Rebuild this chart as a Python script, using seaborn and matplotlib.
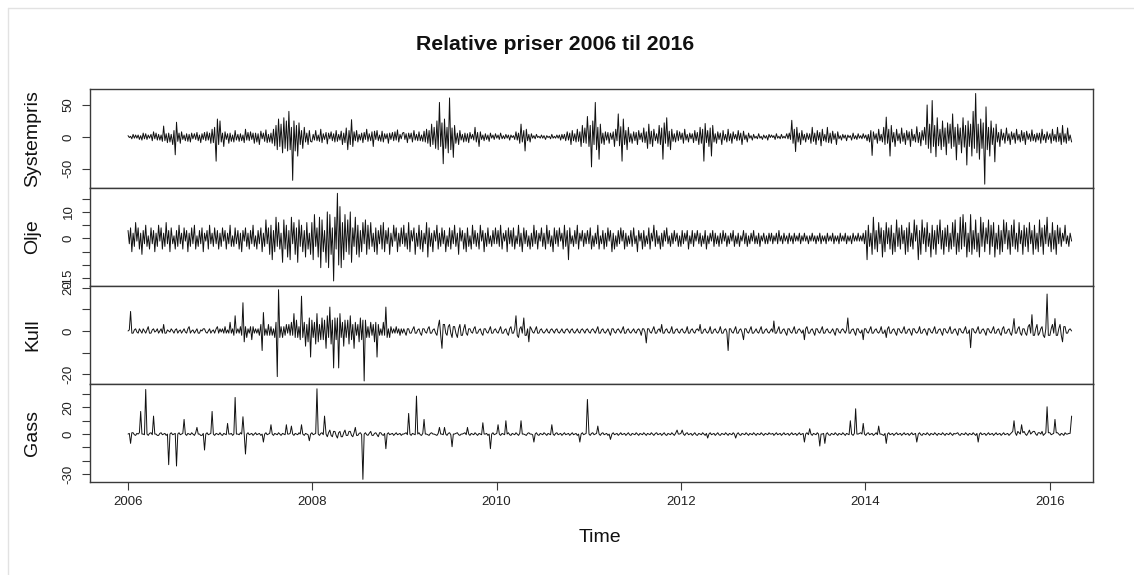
import numpy as np
import pandas as pd
import matplotlib
matplotlib.use("Agg")
import matplotlib.pyplot as plt
from matplotlib.lines import Line2D
import seaborn as sns

# Relative price changes, about 72 observations per year (2006 - Mar 2016)
systempris = [
    # 2006
    2, -1, 1, -3, 4, -2, 3, -2, 3, -4, 2, -5, 6, -3, 5, -4, 3, -2, 4, -6, 8, -3, 6, -5, 4, -5, 3, -7, 17, -6, 5, -9, 6, -8, 4, -12,
    10, -28, 23, -7, 6, -10, 8, -4, 3, -6, 5, -7, 4, -8, 6, -3, 5, -4, 7, -6, 3, -9, 5, -4, 7, -6, 8, -5, 6, -10, 12, -9, 15, -38, 28, -12,
    # 2007
    25, -8, 6, -15, 8, -4, 5, -10, 6, -7, 3, -8, 10, -5, 4, -7, 5, -6, 3, -9, 12, -5, 7, -6, 8, -4, 6, -10, 6, -8, 5, -12, 9, -3, 6, -7,
    11, -9, 4, -8, 6, -10, 12, -14, 18, -20, 28, -15, 20, -25, 30, -18, 25, -22, 40, -20, 15, -68, 25, -22, 18, -30, 22, -12, 10, -18, 15, -8, 6, -12, 10, -7,
    # 2008
    -8, 4, -5, 10, -6, 3, -7, 12, -9, 5, -4, 7, -11, 6, -3, 8, -6, 5, -8, 10, -7, 4, -5, 9, -12, 6, -9, 14, -20, 10, -12, 27, -15, 8, -6, 10,
    -8, 4, -5, 6, -9, 7, -4, 12, -7, 5, -6, 8, -15, 9, -4, 10, -6, 3, -7, 9, -8, 5, -3, 5, -10, 6, -4, 7, -6, 8, -5, 11, -8, 4, -3, 6,
    # 2009
    7, -4, 5, -9, 6, -3, 6, -8, 10, -5, 4, -6, 8, -6, 3, -7, 9, -8, 12, -10, 10, -15, 20, -12, 15, -18, 25, -20, 54, -15, 22, -42, 28, -18, 15, -25,
    61, -20, 14, -32, 18, -10, 6, -12, 10, -5, 4, -8, 6, -7, 5, -9, 7, -3, 4, -5, 15, -8, 7, -15, 8, -4, 3, -6, 5, -4, 3, -7, 6, -2, 3, -4,
    # 2010
    5, -2, 3, -4, 6, -3, 2, -3, 4, -2, 3, -5, 3, -1, 2, -4, 8, -5, 6, -10, 20, -8, 10, -22, 12, -6, 4, -8, 5, -2, 2, -3, 4, -1, 1, -2,
    3, -2, 2, -4, 2, -1, 1, -3, 4, -2, 1, -2, 3, -2, 3, -5, 4, -3, 4, -6, 8, -5, 6, -12, 10, -6, 5, -8, 12, -7, 8, -15, 18, -9, 14, -10,
    # 2011
    32, -15, 18, -47, 25, -12, 54, -20, 15, -35, 20, -10, 6, -12, 8, -5, 7, -10, 6, -4, 8, -15, 12, -6, 36, -14, 16, -38, 28, -12, 10, -20, 15, -8, 5, -10,
    8, -6, 7, -12, 10, -4, 6, -8, 14, -9, 8, -18, 20, -11, 9, -15, 12, -6, 5, -10, 18, -12, 14, -35, 22, -10, 30, -15, 9, -20, 12, -7, 5, -8, 10, -6,
    # 2012
    8, -4, 6, -10, 12, -5, 4, -8, 6, -3, 5, -9, 10, -6, 7, -12, 15, -10, 12, -38, 21, -9, 10, -15, 14, -30, 18, -8, 5, -10, 8, -4, 6, -12, 10, -5,
    4, -8, 12, -6, 5, -10, 8, -3, 4, -6, 10, -5, 6, -12, 9, -4, 3, -8, 6, -2, 2, -5, 4, -2, 1, -3, 5, -2, 1, -4, 3, -2, 2, -5, 4, -1,
    # 2013
    3, -1, 2, -4, 5, -2, 1, -3, 4, -2, 1, -2, 5, -3, 6, -4, 26, -10, 12, -23, 15, -8, 6, -12, 10, -5, 4, -8, 6, -4, 5, -10, 15, -7, 6, -12,
    10, -5, 7, -14, 12, -6, 4, -8, 15, -9, 6, -10, 9, -4, 5, -12, 8, -3, 2, -5, 4, -2, 3, -6, 3, -1, 2, -5, 6, -3, 2, -4, 5, -2, 2, -3,
    # 2014
    5, -2, 3, -6, 4, -8, 10, -29, 8, -4, 5, -10, 12, -6, 4, -8, 15, -12, 31, -10, 12, -30, 18, -8, 7, -15, 12, -6, 5, -10, 14, -7, 6, -12, 10, -5,
    8, -15, 12, -6, 4, -8, 16, -9, 7, -14, 10, -5, 15, -12, 50, -18, 20, -25, 57, -15, 18, -31, 30, -14, 12, -20, 25, -15, 14, -28, 22, -10, 20, -18, 36, -15,
    # 2015
    15, -36, 20, -12, 14, -25, 30, -16, 18, -44, 25, -15, 20, -30, 40, -18, 68, -25, 20, -35, 28, -18, 22, -74, 47, -20, 15, -30, 25, -12, 14, -39, 20, -8, 7, -15,
    12, -5, 6, -10, 14, -6, 5, -12, 8, -4, 6, -10, 12, -5, 4, -8, 10, -6, 7, -12, 9, -4, 5, -7, 11, -6, 4, -8, 6, -5, 6, -10, 12, -5, 4, -9,
    # 2016
    8, -4, 5, -10, 12, -6, 4, -8, 15, -7, 6, -12, 18, -8, 5, -10, 14, -6, 3, -8,
]

olje = [
    # 2006
    3, -2, 4, -5, 2, -3, 6, -1, 4, -4, 2, -6, 3, -2, 5, -3, 1, -4, 4, -2, 3, -5, 2, -3, 5, -1, 4, -4, 2, -3, 6, -2, 3, -5, 4, -2,
    1, -4, 3, -3, 5, -2, 2, -4, 4, -1, 3, -5, 2, -3, 4, -2, 5, -4, 1, -3, 3, -2, 4, -5, 2, -1, 3, -4, 5, -2, 2, -3, 4, -2, 3, -4,
    # 2007
    2, -3, 4, -1, 3, -4, 2, -2, 5, -3, 1, -3, 4, -2, 3, -4, 2, -5, 3, -1, 4, -3, 2, -4, 3, -2, 5, -3, 1, -4, 3, -2, 4, -5, 2, -3,
    7, -2, 4, -6, 5, -8, 3, -5, 8, -3, 6, -4, 2, -9, 7, -4, 5, -7, 3, -8, 8, -2, 6, -6, 4, -9, 7, -3, 5, -5, 3, -7, 6, -4, 2, -6,
    # 2008
    6, -8, 9, -3, 4, -7, 8, -11, 7, -5, 3, -9, 10, -11, 9, -6, 4, -16, 8, -4, 17, -10, 12, -11, 6, -8, 9, -5, 7, -6, 10, -9, 4, -3, 8, -6,
    5, -7, 3, -5, 6, -2, 7, -6, 5, -4, 6, -3, 2, -5, 4, -6, 3, -2, 5, -4, 6, -5, 3, -2, 4, -6, 2, -3, 5, -1, 4, -5, 2, -3, 4, -2,
    # 2009
    5, -3, 2, -4, 6, -5, 3, -1, 4, -6, 2, -3, 5, -4, 3, -5, 2, -2, 6, -7, 4, -3, 2, -5, 3, -1, 5, -4, 2, -3, 4, -2, 3, -5, 1, -3,
    4, -4, 3, -2, 5, -3, 2, -6, 4, -1, 3, -4, 2, -5, 4, -3, 1, -4, 5, -2, 3, -3, 2, -4, 5, -1, 3, -5, 2, -3, 4, -2, 1, -3, 3, -2,
    # 2010
    4, -2, 3, -3, 5, -4, 2, -1, 3, -5, 4, -2, 3, -3, 4, -4, 1, -2, 5, -3, 2, -5, 4, -2, 3, -3, 1, -4, 2, -3, 5, -2, 3, -4, 2, -1,
    4, -3, 2, -4, 5, -2, 3, -3, 1, -5, 4, -2, 3, -3, 4, -1, 2, -4, 5, -3, 3, -8, 4, -2, 1, -3, 3, -2, 5, -4, 2, -1, 3, -3, 2, -2,
    # 2011
    3, -2, 4, -4, 1, -3, 2, -2, 5, -4, 1, -2, 3, -4, 2, -3, 4, -1, 3, -5, 2, -4, 1, -3, 3, -2, 4, -1, 3, -4, 2, -3, 1, -2, 3, -3,
    4, -2, 1, -5, 3, -1, 2, -4, 3, -3, 1, -2, 4, -4, 2, -1, 5, -3, 3, -2, 1, -4, 2, -3, 3, -1, 4, -2, 1, -3, 2, -2, 3, -1, 2, -3,
    # 2012
    1, -3, 3, -2, 2, -1, 3, -4, 1, -2, 3, -3, 2, -1, 3, -2, 2, -3, 1, -2, 3, -4, 1, -2, 2, -1, 3, -3, 2, -2, 1, -3, 2, -2, 3, -1,
    2, -3, 1, -2, 2, -1, 3, -3, 1, -2, 2, -3, 1, -1, 3, -2, 2, -3, 1, -2, 2, -1, 3, -2, 1, -2, 2, -3, 1, -1, 2, -2, 1, -2, 2, -1,
    # 2013
    2, -2, 1, -1, 2, -2, 3, -1, 1, -2, 2, -1, 1, -2, 2, -1, 1, -2, 2, -1, 1, -1, 2, -2, 1, -1, 2, -1, 1, -2, 1, -1, 2, -1, 1, -2,
    1, -1, 2, -2, 1, -1, 1, -2, 2, -1, 1, -1, 2, -2, 1, -1, 1, -2, 2, -1, 1, -1, 2, -2, 1, -1, 1, -2, 2, -1, 1, -1, 2, -1, 1, -1,
    # 2014
    2, -2, 3, -8, 5, -3, 2, -6, 8, -4, 3, -5, 6, -2, 4, -7, 3, -5, 6, -2, 4, -4, 5, -6, 2, -5, 7, -3, 4, -4, 5, -2, 3, -6, 4, -5,
    6, -3, 2, -4, 7, -1, 5, -8, 3, -6, 7, -2, 4, -5, 6, -3, 2, -7, 5, -4, 3, -6, 5, -2, 7, -4, 3, -6, 4, -3, 5, -5, 2, -4, 6, -3,
    # 2015
    7, -6, 2, -5, 8, -4, 9, -3, 6, -7, 2, -5, 9, -6, 3, -4, 7, -5, 2, -7, 8, -3, 6, -5, 4, -2, 7, -6, 5, -3, 6, -7, 2, -4, 5, -6,
    3, -5, 7, -2, 6, -4, 3, -6, 5, -3, 7, -4, 2, -5, 6, -2, 3, -6, 5, -3, 4, -5, 6, -2, 3, -6, 5, -4, 2, -5, 7, -3, 4, -6, 5, -2,
    # 2016
    8, -3, 2, -5, 6, -4, 3, -6, 5, -2, 4, -3, 2, -1, 5, -2, 1, -3, 2, -1,
]

kull = [
    # 2006
    0, 0.5, 9, -1, -1, 0.5, 1, -0.5, -1, 1, 0, -1, 1, 0, -1, 0.5, 2, -1, -1, 0.5, 1, -0.5, 0, 1, -1, 0, 1, -1, 3, -1, -1, 0.5, 0, -0.5, 1, 0,
    -1, 0.5, 1, -1, 0, 0.5, -1, 0, 1, -0.5, -1, 1, 2, -1, 0, 0.5, -1, 0, 1, -1, -1, 0.5, 0, 1, 1, -0.5, -1, 0, 1, -1, 0, 0.5, -1, 1, 2, -1,
    # 2007
    1, -0.5, 1, -1, 2, -1, 0.5, -1, 4, -1, 1, -2, 7, -1, 1, -1, 2, -2, 13, -5, 2, -3, 1, -1, 2, -4, 2, -1, 1, -1, 1, -2, 3, -9, 8.5, -2,
    1, -2, 3, -2, 2, -2, 1, -3, 4, -21, 19, -3, 2, -3, 2, -2, 3, -1, 3, -2, 4, -2, 8, -3, 5, -3, 2, -4, 16, -3, 4, -7, 3, -5, 6, -12,
    # 2008
    5, -3, 4, -6, 8, -5, 3, -4, 6, -4, 5, -8, 7, -3, 11, -6, 5, -17, 6, -4, 6, -17, 8, -3, 4, -7, 5, -3, 5, -6, 7, -4, 3, -8, 4, -2,
    3, -5, 6, -4, 5, -23, 5, -3, 2, -3, 4, -2, 3, -5, 4, -12, 3, -2, 1, -2, 4, -2, 11, -3, 1, -3, 2, -1, 1, -1, 2, -1, 1, -2, 1, -1,
    # 2009
    1, -0.5, -2, 1, 1, -1, -1, 0.5, 2, -1, -1, 0.5, 1, -1, -2, 1, 1, -0.5, -1, 1, 2, -1, -1, 0.5, 1, -1, -2, 2, 5, -2, -8, 3, 3, -1, -2, 2,
    3, -1, -3, 2, 2, -1, -3, 1, 3, -2, -2, 1, 3, -1, -2, 1, 1, -0.5, -1, 1, 2, -1, -1, 0.5, 1, -1, -2, 1, 1, -0.5, -1, 0.5, 2, -1, -1, 0.5,
    # 2010
    1, -0.5, -1, 0.5, 2, -1, -1, 0.5, 1, -1, -2, 1, 2, -1, -1, 1, 7, -2, -3, 1, 2, -1, 6, -2, -2, 1, -5, 2, 1, -0.5, -1, 0.5, 2, -1, -1, 0.5,
    1, -0.5, -1, 0, 1, -0.5, -1, 0.5, 1, 0, -1, 0.5, 1, -0.5, -1, 0, 1, -0.5, -1, 0.5, 1, 0, -1, 0.5, 1, -0.5, -1, 0, 1, -0.5, -1, 0.5, 1, 0, -1, 0.5,
    # 2011
    1, -0.5, -1, 0.5, 1, 0, -1, 0.5, 2, -1, -1, 0.5, 1, -0.5, -1, 0, 1, -0.5, -2, 1, 1, -0.5, -1, 0.5, 1, 0, -1, 0.5, 2, -1, -1, 0.5, 1, -0.5, -1, 0,
    1, -0.5, -1, 0.5, 1, 0, -2, 1, 1, -0.5, -5.5, 1, 1, -0.5, -1, 0.5, 2, -1, -1, 0.5, 1, -0.5, 3, -1, -1, 0.5, 1, -0.5, -1, 0, 2, -1, -1, 0.5, 1, -0.5,
    # 2012
    -1, 0.5, 1, -0.5, -1, 0, 2, -1, -1, 0.5, 1, -0.5, -1, 0.5, 1, 0, 3, -1, -1, 0.5, 1, -0.5, -1, 0, 2, -1, -1, 0.5, 1, -0.5, -1, 0, 2, -1, -1, 0.5,
    1, -0.5, -9, 1, 1, -0.5, -1, 0.5, 2, -1, -1, 0.5, 1, -0.5, -4, 1, 1, -0.5, -1, 0.5, 2, -1, -1, 0, 1, -0.5, -1, 0.5, 2, -1, -1, 0.5, 1, -0.5, -1, 0,
    # 2013
    1, -0.5, 4.6, -1, -1, 0.5, 2, -1, -1, 0.5, 1, -0.5, -2, 1, 1, -0.5, -1, 0.5, 2, -1, -1, 0.5, 1, 0, -1, 0.5, -4, 1, 2, -1, -1, 0.5, 1, -0.5, -2, 1,
    1, -0.5, -1, 0.5, 2, -1, -1, 0.5, 1, -0.5, -1, 0, 1, -0.5, -2, 1, 1, -0.5, -1, 0.5, 1, 0, -1, 0.5, 6, -1, -1, 0.5, 1, -0.5, -2, 1, 1, -0.5, -1, 0.5,
    # 2014
    -4, 1, 1, -0.5, -1, 0.5, 2, -1, -1, 0.5, 1, -0.5, -1, 0, 2, -1, -1, 0.5, -3, 1, 2, -1, -1, 0.5, 1, -0.5, -2, 1, 1, -0.5, -1, 0.5, 2, -1, -1, 0.5,
    1, -0.5, -2, 1, 1, -0.5, -1, 0, 2, -1, -1, 0.5, 1, -0.5, -2, 1, 1, -0.5, -1, 0.5, 2, -1, -1, 0.5, 1, -0.5, -2, 1, 1, -0.5, -1, 0.5, 2, -1, -1, 0.5,
    # 2015
    1, -0.5, -2, 1, 1, -0.5, -1, 0.5, 2, -1, -1, 0.5, -7.7, 1, 1, -0.5, -1, 0.5, 2, -1, -1, 0.5, 1, -0.5, -2, 1, 1, -0.5, -1, 0.5, 2, -1, -1, 0.5, 1, -1,
    -2, 1, 2, -1, -1, 0.5, 1, -1, -2, 1, 5.7, -1, -1, 1, 2, -1, -2, 1, 1, -1, -2, 2, 3, -1, 7.5, -2, -2, 1, 3, -2, -1, 1, 2, -2, -3, 1,
    # 2016
    17, -2, -2, 1, 3, -1, 5.7, -2, -2, 1, 3, -2, -5, 2, 2, -1, -1, 0.5, 1, 0,
]

gass = [
    # 2006
    0, 0.5, -7, 1, 1, -0.5, -1, 0.5, 0, 1, 17, 0, 0, -0.5, 33.5, 0, -1, 0.5, 1, -0.5, 13.5, 0, 0, -1, -1, 0.5, 1, -0.5, 0, 0.5, -1, 0, -23, 0, 1, -0.5,
    0, 0.5, -24, 0, 1, -0.5, 0, 0.5, 11, 0, -1, 0.5, 0, -0.5, 1, 0, -1, 1, 5, 0, 0, -1, -1, 0.5, -12, 0, 1, -0.5, 0, 0.5, 17, 0, -1, 0.5, 0, -0.5,
    # 2007
    1, -0.5, -1, 0.5, 0, -0.5, 8, 0, 0, 0.5, -1, 0, 27.5, 0, 0, -0.5, 1, 0, 13, 0, -15, 0, 1, -0.5, 0, 0.5, -1, 0, 1, -0.5, 0, 0.5, -1, 0, -6, 0,
    1, -0.5, 0, 0.5, 7, 0, -1, 0.5, 0, -0.5, 1, 0, -1, 0.5, 0, -0.5, 7, 0, 0, 0.5, 6, 0, -1, 0.5, 0, -0.5, 1, 0, 7, 0, -1, 0.5, 0, -0.5, -5, 0,
    # 2008
    1, -0.5, 0, 0.5, 34, 0, -1, 0.5, 1, -0.5, 13.5, 0, -2, 1, 3, -1, -2, 2, 2, -1, -3, 1, 2, -2, -2, 1, 3, -1, -1, 2, 2, -1, -2, 1, 5, -1,
    -1, 0.5, 1, -0.5, -34, 0, 1, -0.5, -1, 0.5, 2, -1, -1, 0.5, 1, -0.5, -2, 1, 1, -0.5, -1, 0.5, -11, 0, 1, -0.5, 0, 0.5, -1, 0, 1, -0.5, 0, 0.5, -1, 0,
    # 2009
    0, 0.5, 1, -0.5, 15.5, 0, -1, 0.5, 0, -0.5, 28.5, 0, 1, -0.5, -1, 0.5, 11, 0, 0, -0.5, -1, 0.5, 1, 0, 0, -0.5, -1, 0.5, 5, 0, 0, -0.5, 5, 0, -1, 0.5,
    1, -0.5, -9.5, 0, 0, 0.5, 1, -0.5, -1, 0, 0, 0.5, 1, -0.5, 5, 0, -1, 0.5, 0, -0.5, 1, 0, -1, 0.5, 0, -0.5, 8.5, 0, 0, 0.5, -1, 0, -11, 0, 1, -0.5,
    # 2010
    0, 0.5, 7, 0, -1, 0.5, 0, -0.5, 10, 0, 1, -0.5, -1, 0.5, 0, -0.5, 1, 0, -1, 0.5, 10, 0, 0, -0.5, -1, 0.5, 1, 0, 0, -0.5, -6, 0, 1, -0.5, -1, 0.5,
    0, -0.5, 1, 0, -1, 0.5, 0, -0.5, 7, 0, -1, 0.5, 1, -0.5, 0, 0.5, -1, 0, 1, -0.5, 0, 0.5, -1, 0, 1, -0.5, 0, 0.5, -1, 0, -6, 0, 1, -0.5, 0, 0.5,
    # 2011
    26, 0, -1, 0.5, 1, -0.5, 0, 0.5, 6, 0, -1, 0.5, 1, -0.5, 0, 0.5, -1, 0, -4, 0, 1, -0.5, 0, 0.5, -1, 0, 1, -0.5, 0, 0.5, -1, 0, 1, -0.5, -1, 0.5,
    0, -0.5, 1, 0, -1, 0.5, 0, -0.5, 1, 0, -1, 0.5, 0, -0.5, 1, 0, -1, 0.5, 1, -0.5, 0, 0.5, -1, 0, 1, -0.5, -1, 0.5, 0, -0.5, 1, 0, -1, 0.5, 3, 0,
    # 2012
    0, 0.5, 3, 0, -1, 0.5, 1, -0.5, 0, 0.5, -1, 0, 1, -0.5, -1, 0.5, 0, -0.5, 1, 0, -1, 0.5, -3, 0, 1, -0.5, 0, 0.5, -1, 0, 1, -0.5, -1, 0.5, 0, -0.5,
    1, 0, -1, 0.5, 0, -0.5, 1, 0, -3, 0, 1, -0.5, -1, 0.5, 0, -0.5, 1, 0, -1, 0.5, 0, -0.5, 1, 0, -1, 0.5, 0, -0.5, 1, 0, -1, 0.5, 0, -0.5, 1, 0,
    # 2013
    0, 0.5, -1, 0, 1, -0.5, 0, 0.5, -1, 0, 1, -0.5, 0, 0.5, -1, 0, 1, -0.5, 0, 0.5, -1, 0, 1, -0.5, 0, 0.5, -6, 0, 1, -0.5, 4, 0, -1, 0.5, 0, -0.5,
    1, 0, -9, 0, 0, 0.5, -7, 0, 1, -0.5, -1, 0.5, 0, -0.5, 1, 0, -1, 0.5, 0, -0.5, 1, 0, -1, 0.5, 0, -0.5, 10, 0, -1, 0.5, 19, 0, 0, 0.5, 1, 0,
    # 2014
    8, 0, -1, 0.5, 1, -0.5, 0, 0.5, -1, 0, 1, -0.5, 6, 0, 0, -0.5, -1, 0.5, -7, 0, 1, -0.5, 0, 0.5, -1, 0, 1, -0.5, 0, 0.5, -1, 0, 1, -0.5, 0, 0.5,
    -1, 0, 1, -0.5, 0, 0.5, -6, 0, 1, -0.5, -1, 0.5, 0, -0.5, 1, 0, -1, 0.5, 0, -0.5, 1, 0, -1, 0.5, 0, -0.5, 1, 0, -1, 0.5, 0, -0.5, 1, 0, -1, 0.5,
    # 2015
    0, 0.5, 1, -0.5, -1, 0.5, 0, -0.5, 1, 0, -1, 0.5, 0, -0.5, 1, 0, -1, 0.5, -6, 0, 1, -0.5, 0, 0.5, -1, 0, 1, -0.5, 0, 0.5, -1, 0, 1, -0.5, 0, 0.5,
    -1, 0, 1, -0.5, 0, 0.5, -1, 0, 1, 2, 10, 1, -1, 2, 1, 0, 7, 1, 2, 0, -1, 1, 3, 0, 1, 2, 2, 0, -1, 1, 1, 0, 2, -1, 0, 1,
    # 2016
    20.5, 1, 1, -0.5, 0, 0.5, 11, 1, 1, 0, -1, 0.5, 0, -1, 1, 0, 0, 0.5, 0.5, 13.5,
]

series_names = ["Systempris", "Olje", "Kull", "Gass"]
series_values = [systempris, olje, kull, gass]

y_ticks = [[-50, 0, 50], [-15, -10, -5, 0, 5, 10, 15], [-20, -10, 0, 10, 20], [-30, -20, -10, 0, 10, 20, 30]]
y_ticklabels = [["-50", "0", "50"], ["-15", "", "", "0", "", "10", ""], ["-20", "", "0", "", "20"], ["-30", "", "", "0", "", "20", ""]]
y_limits = [(-80, 75), (-17.9, 19), (-24.4, 20.7), (-36, 37.6)]

x_ticks = [2006, 2008, 2010, 2012, 2014, 2016]
title = "Relative priser 2006 til 2016"


def decimal_years(n):
    dates = pd.date_range("2006-01-02", "2016-03-28", periods=n)
    return dates.year + (dates.dayofyear - 1) / 365.25


sns.set_style("white")
plt.rcParams["font.family"] = ["Liberation Sans", "DejaVu Sans"]

W, H = 1134, 575
fig = plt.figure(figsize=(W / 100, H / 100), dpi=100)
fig.patch.set_facecolor("white")

left_px, right_px = 90, 1093
panel_edges = [89, 188, 286, 384, 482]
spine_color = "#3a3a3a"

for i, (name, vals) in enumerate(zip(series_names, series_values)):
    top, bot = panel_edges[i], panel_edges[i + 1]
    ax = fig.add_axes([left_px / W, 1 - bot / H, (right_px - left_px) / W, (bot - top) / H])
    df = pd.DataFrame({"Time": decimal_years(len(vals)), name: vals})
    sns.lineplot(data=df, x="Time", y=name, ax=ax, color="#111111", linewidth=0.7,
                 estimator=None, sort=False)
    ax.set_xlim(2005.59, 2016.47)
    ax.set_ylim(*y_limits[i])
    ax.set_yticks(y_ticks[i])
    ax.set_yticklabels(y_ticklabels[i], rotation=90, va="center", fontsize=9.5, color="#222222")
    ax.tick_params(axis="y", direction="out", length=6, width=0.8, color=spine_color, pad=5, left=True)
    ax.set_ylabel("")
    ax.set_xlabel("")
    for s in ax.spines.values():
        s.set_color(spine_color)
        s.set_linewidth(1.0)
    if i < 3:
        ax.set_xticks([])
    else:
        ax.set_xticks(x_ticks)
        ax.set_xticklabels([str(t) for t in x_ticks], fontsize=9.5, color="#222222")
        ax.tick_params(axis="x", direction="out", length=6, width=0.8, color=spine_color, pad=4, bottom=True)
    fig.text(33 / W, 1 - (top + bot) / 2 / H, name, rotation=90, ha="center", va="center",
             fontsize=14, color="#111111")

fig.text(555 / W, 1 - 45 / H, title, ha="center", va="center", fontsize=15.3,
         fontweight="bold", color="#111111")
fig.text(600 / W, 1 - 538 / H, "Time", ha="center", va="center", fontsize=14, color="#111111")

# light outer frame
fig.add_artist(Line2D([8 / W, 8 / W], [0, 1 - 8 / H], transform=fig.transFigure, color="#e2e2e2", lw=1))
fig.add_artist(Line2D([8 / W, 1], [1 - 8 / H, 1 - 8 / H], transform=fig.transFigure, color="#e2e2e2", lw=1))

fig.savefig("out.png", dpi=100, facecolor="white")
